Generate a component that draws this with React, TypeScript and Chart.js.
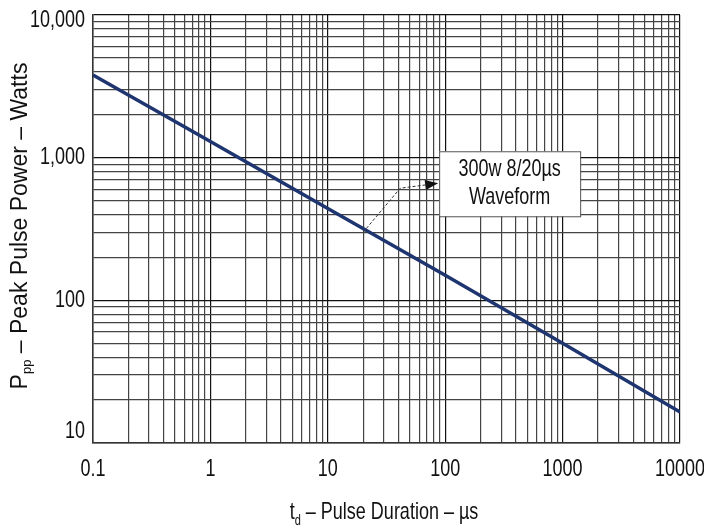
import React, { useEffect, useRef } from 'react';
import Chart from 'chart.js/auto';

// pulse duration (µs) vs. peak pulse power (W)
const durations = [0.1, 1, 10, 100, 1000, 10000];
const peakPower = [3800, 1300, 440, 150, 50, 16.5];

// decades that carry a label, and the labels as printed
const xDecades = [0.1, 1, 10, 100, 1000, 10000];
const xTickLabels = ['0.1', '1', '10', '100', '1000', '10000'];
const yDecades = [10, 100, 1000, 10000];
const yTickLabels = ['10', '100', '1,000', '10,000'];
const minorSteps = [1, 2, 3, 4, 5, 6, 7, 8, 9];

// annotation: the marked point on the curve and the callout text
const markPoint = { x: 20, y: 300 };
const calloutLines = ['300w 8/20µs', 'Waveform'];

const FONT = '"Liberation Sans", Arial, sans-serif';
// the scanned datasheet is stretched vertically, so horizontal text is tall and narrow
const STRETCH = 1.3;

const gridTicks = (decades: number[]) => {
  const out: { value: number; major: boolean }[] = [];
  decades.forEach((d, i) => {
    if (i === decades.length - 1) {
      out.push({ value: d, major: true });
      return;
    }
    minorSteps.forEach(m => out.push({ value: +(d * m).toPrecision(6), major: m === 1 }));
  });
  return out;
};

const tallText = (ctx: CanvasRenderingContext2D, text: string, x: number, y: number, align: CanvasTextAlign, size = 18) => {
  ctx.save();
  ctx.translate(x, y);
  ctx.scale(1, STRETCH);
  ctx.font = `${size}px ${FONT}`;
  ctx.textAlign = align;
  ctx.textBaseline = 'middle';
  ctx.fillText(text, 0, 0);
  ctx.restore();
};

const extrasPlugin = {
  id: 'extras',
  afterDatasetsDraw(chart: any) {
    const { ctx, scales, chartArea } = chart;
    const xs = scales.x;
    const ys = scales.y;

    // tick labels
    ctx.save();
    ctx.fillStyle = '#111';
    xDecades.forEach((v, i) => tallText(ctx, xTickLabels[i], xs.getPixelForValue(v), chartArea.bottom + 27, 'center'));
    yDecades.forEach((v, i) => {
      const p = Math.min(Math.max(ys.getPixelForValue(v), chartArea.top + 6), chartArea.bottom - 11);
      tallText(ctx, yTickLabels[i], chartArea.left - 8, p, 'right');
    });
    ctx.restore();

    // callout arrow from the curve up to the box
    const px = xs.getPixelForValue(markPoint.x);
    const py = ys.getPixelForValue(markPoint.y);
    const ex = px + 37;
    const ey = py - 44;
    const tx = px + 75;
    const ty = py - 49;
    ctx.save();
    ctx.strokeStyle = '#333';
    ctx.lineWidth = 1;
    ctx.setLineDash([3, 2]);
    ctx.beginPath();
    ctx.moveTo(px, py);
    ctx.lineTo(ex, ey);
    ctx.lineTo(tx - 10, ty + 1.3);
    ctx.stroke();
    ctx.setLineDash([]);
    const ang = Math.atan2(ty - ey, tx - ex);
    ctx.fillStyle = '#111';
    ctx.beginPath();
    ctx.moveTo(tx, ty);
    ctx.lineTo(tx - 13 * Math.cos(ang) + 5 * Math.sin(ang), ty - 13 * Math.sin(ang) - 5 * Math.cos(ang));
    ctx.lineTo(tx - 13 * Math.cos(ang) - 5 * Math.sin(ang), ty - 13 * Math.sin(ang) + 5 * Math.cos(ang));
    ctx.closePath();
    ctx.fill();

    // callout box
    const bx = tx + 1;
    const by = ty - 32;
    const bw = 141;
    const bh = 65;
    ctx.fillStyle = '#fff';
    ctx.fillRect(bx, by, bw, bh);
    ctx.strokeStyle = '#555';
    ctx.strokeRect(bx + 0.5, by + 0.5, bw, bh);
    ctx.fillStyle = '#111';
    calloutLines.forEach((t, i) => tallText(ctx, t, bx + bw / 2, by + 18 + i * 28, 'center'));
    ctx.restore();
  },
  afterDraw(chart: any) {
    const { ctx } = chart;
    ctx.save();
    ctx.fillStyle = '#111';

    // x title: t_d – Pulse Duration – µs (tall, narrow like the ticks)
    ctx.font = `18px ${FONT}`;
    const xa = ctx.measureText('t').width;
    const xc = ctx.measureText(' – Pulse Duration – µs').width;
    ctx.font = `11px ${FONT}`;
    const xb = ctx.measureText('d').width;
    const x0 = 384 - (xa + xb + xc) / 2;
    tallText(ctx, 't', x0, 513, 'left');
    tallText(ctx, 'd', x0 + xa, 521, 'left', 11);
    tallText(ctx, ' – Pulse Duration – µs', x0 + xa + xb, 513, 'left');

    // y title: P_pp – Peak Pulse Power – Watts (rotated, normal proportions)
    ctx.translate(27, 226);
    ctx.rotate(-Math.PI / 2);
    ctx.textBaseline = 'alphabetic';
    ctx.textAlign = 'left';
    ctx.font = `23px ${FONT}`;
    const ya = ctx.measureText('P').width;
    const yc = ctx.measureText(' – Peak Pulse Power – Watts').width;
    ctx.font = `13px ${FONT}`;
    const yb = ctx.measureText('pp').width;
    let cx = -(ya + yb + yc) / 2;
    ctx.font = `23px ${FONT}`;
    ctx.fillText('P', cx, 0);
    cx += ya;
    ctx.font = `13px ${FONT}`;
    ctx.fillText('pp', cx, 4);
    cx += yb;
    ctx.font = `23px ${FONT}`;
    ctx.fillText(' – Peak Pulse Power – Watts', cx, 0);
    ctx.restore();
  },
};

const App: React.FC = () => {
  const canvasRef = useRef<HTMLCanvasElement | null>(null);

  useEffect(() => {
    if (!canvasRef.current) return;
    const ctx = canvasRef.current.getContext('2d');
    if (!ctx) return;

    const gridColor = (c: any) => (c.tick && c.tick.major ? '#111' : '#444');

    const chart = new Chart(ctx, {
      type: 'line',
      data: {
        datasets: [
          {
            label: 'Peak pulse power',
            data: durations.map((d, i) => ({ x: d, y: peakPower[i] })),
            borderColor: '#1f3570',
            borderWidth: 3.5,
            pointRadius: 0,
            tension: 0,
          },
        ],
      },
      options: {
        animation: false,
        responsive: false,
        devicePixelRatio: 1,
        layout: { padding: { left: 0, right: 24, top: 15, bottom: 0 } },
        plugins: { legend: { display: false }, tooltip: { enabled: false } },
        scales: {
          x: {
            type: 'logarithmic',
            min: 0.1,
            max: 10000,
            afterBuildTicks: (scale: any) => {
              scale.ticks = gridTicks(xDecades);
            },
            afterFit: (scale: any) => {
              scale.height = 87;
              scale.paddingLeft = 0;
              scale.paddingRight = 0;
            },
            grid: { color: gridColor, lineWidth: 1.2, drawTicks: false },
            border: { display: true, color: '#333', width: 1.5 },
            ticks: { display: false, autoSkip: false },
          },
          y: {
            type: 'logarithmic',
            min: 10,
            max: 10000,
            afterBuildTicks: (scale: any) => {
              scale.ticks = gridTicks(yDecades);
            },
            afterFit: (scale: any) => {
              scale.width = 93;
              scale.paddingTop = 0;
              scale.paddingBottom = 0;
            },
            grid: { color: gridColor, lineWidth: 1.2, drawTicks: false },
            border: { display: true, color: '#333', width: 1.5 },
            ticks: { display: false, autoSkip: false },
          },
        },
      },
      plugins: [extrasPlugin],
    });

    return () => {
      chart.destroy();
    };
  }, []);

  return (
    <div style={{ position: 'fixed', left: 0, top: 0, width: 704, height: 530, background: '#fff' }}>
      <canvas ref={canvasRef} width={704} height={530} style={{ width: 704, height: 530 }} />
    </div>
  );
};

export default App;
